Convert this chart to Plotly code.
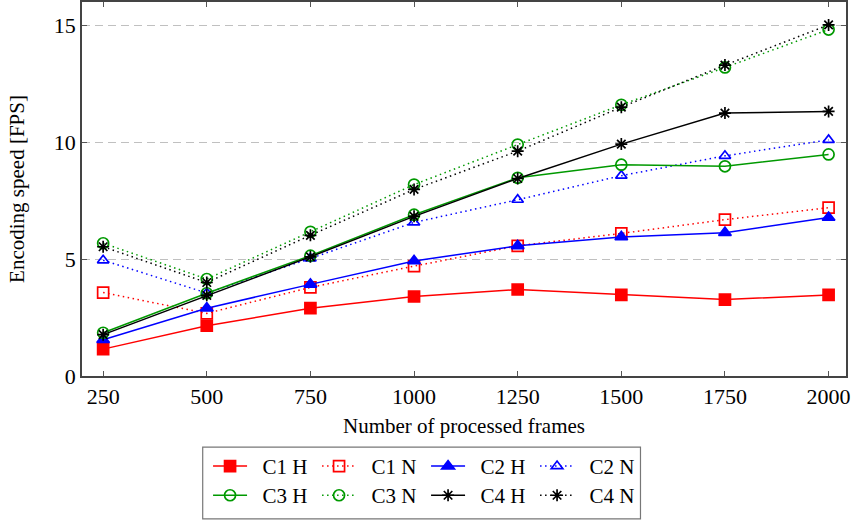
import plotly.graph_objects as go

frames = [250, 500, 750, 1000, 1250, 1500, 1750, 2000]

c1_h = [1.15, 2.15, 2.9, 3.4, 3.7, 3.47, 3.27, 3.47]
c1_n = [3.57, 2.68, 3.79, 4.7, 5.57, 6.1, 6.69, 7.2]
c2_h = [1.55, 2.9, 3.92, 4.92, 5.57, 5.95, 6.13, 6.78]
c2_n = [4.95, 3.55, 5.03, 6.57, 7.54, 8.57, 9.42, 10.1]
c3_h = [1.85, 3.54, 5.15, 6.9, 8.48, 9.04, 8.97, 9.48]
c3_n = [5.68, 4.15, 6.17, 8.19, 9.9, 11.6, 13.2, 14.82]
c4_h = [1.77, 3.45, 5.1, 6.83, 8.45, 9.92, 11.25, 11.32]
c4_n = [5.53, 4.0, 6.02, 7.98, 9.62, 11.5, 13.3, 15.02]

RED = "#ff0000"
BLUE = "#0000ff"
GREEN = "#009900"
BLACK = "#000000"
DOT = "1.5px,3.5px"
PAD = "\u2002"  # small gap between legend symbol and label

series = [
    ("C1 H", c1_h, RED, "solid", "square", 11, "legend"),
    ("C1 N", c1_n, RED, DOT, "square-open", 11, "legend"),
    ("C2 H", c2_h, BLUE, "solid", "triangle-up", 11, "legend"),
    ("C2 N", c2_n, BLUE, DOT, "triangle-up-open", 10, "legend"),
    ("C3 H", c3_h, GREEN, "solid", "circle-open", 11, "legend2"),
    ("C3 N", c3_n, GREEN, DOT, "circle-open", 11, "legend2"),
    ("C4 H", c4_h, BLACK, "solid", "asterisk-open", 10, "legend2"),
    ("C4 N", c4_n, BLACK, DOT, "asterisk-open", 10, "legend2"),
]

fig = go.Figure()
for name, vals, col, dash, sym, sz, lg in series:
    fig.add_trace(go.Scatter(
        x=frames, y=vals, name=PAD + name, mode="lines+markers", legend=lg,
        line=dict(color=col, width=1.5, dash=dash),
        marker=dict(symbol=sym, size=sz, color=col, line=dict(color=col, width=1.7)),
    ))

FONT = "Liberation Serif"
legend_common = dict(
    orientation="h", xanchor="left", yanchor="top",
    borderwidth=0, bgcolor="rgba(0,0,0,0)",
    entrywidth=60, entrywidthmode="pixels",
    font=dict(family=FONT, size=21, color="black"),
    tracegroupgap=0, itemwidth=34,
)
fig.update_layout(
    width=853, height=520,
    margin=dict(l=82, r=7, t=2, b=144, autoexpand=False),
    plot_bgcolor="white", paper_bgcolor="white",
    font=dict(family=FONT, size=21, color="black"),
    showlegend=True,
    legend=dict(x=0.165, y=-0.187, **legend_common),
    legend2=dict(x=0.165, y=-0.265, **legend_common),
    shapes=[dict(type="rect", xref="paper", yref="paper",
                 x0=0.158, x1=0.731, y0=-0.382, y1=-0.19,
                 line=dict(color="#777777", width=1.2), fillcolor="rgba(0,0,0,0)")],
    xaxis=dict(
        range=[199, 2042], tickvals=frames, ticktext=[str(f) for f in frames],
        ticks="inside", ticklen=5, tickcolor="#555555", mirror="allticks",
        showline=True, linecolor="#444444", linewidth=1.5, showgrid=False,
        zeroline=False, tickfont=dict(size=22), ticklabeloverflow="allow",
        title=dict(text="Number of processed frames", standoff=10, font=dict(size=21)),
    ),
    yaxis=dict(
        range=[0, 16], tickvals=[0, 5, 10, 15],
        ticks="inside", ticklen=5, tickcolor="#555555", mirror="allticks",
        showline=True, linecolor="#444444", linewidth=1.5,
        showgrid=True, gridcolor="#c0c0c0", griddash="8px,5px", gridwidth=1,
        zeroline=False, tickfont=dict(size=22),
        title=dict(text="Encoding speed [FPS]", standoff=23, font=dict(size=21)),
    ),
)

fig.write_html("out.html", config={"displayModeBar": False},
               post_script="document.body.style.margin='0px';")
